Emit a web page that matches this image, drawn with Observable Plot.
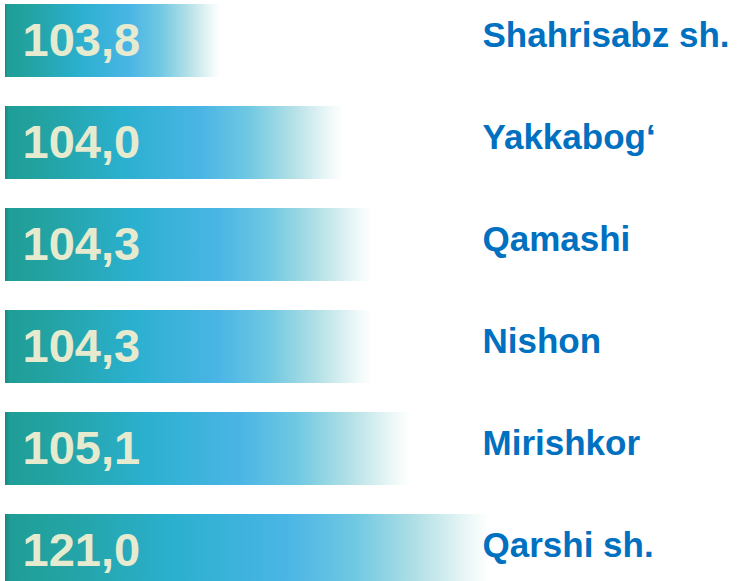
<!DOCTYPE html>
<html>
<head>
<meta charset="utf-8">
<script src="https://cdn.jsdelivr.net/npm/d3@7"></script>
<script src="https://cdn.jsdelivr.net/npm/@observablehq/plot@0.6"></script>
<style>
  html, body { margin: 0; padding: 0; background: #ffffff; }
  #chart svg { display: block; }
</style>
</head>
<body>
<div id="chart"></div>
<script>
// Data
const regions = ["Shahrisabz sh.", "Yakkabog‘", "Qamashi", "Nishon", "Mirishkor", "Qarshi sh."];
const values = [103.8, 104.0, 104.3, 104.3, 105.1, 121.0];
const baseline = 100;

const data = regions.map((r, i) => ({region: r, value: values[i]}));
const fmt = v => v.toFixed(1).replace(".", ",");

// the infographic's bar lengths are not linear in the values: piecewise scale
const xDomain = [baseline, ...Array.from(new Set(values)).sort((a, b) => a - b)];
const xRange = [5, 220, 343, 372, 410, 490];

const chart = Plot.plot({
  width: 738,
  height: 581,
  margin: 0,
  style: {background: "transparent", overflow: "visible"},
  x: {type: "linear", domain: xDomain, range: xRange, axis: null},
  y: {type: "band", domain: regions, range: [2, 590], paddingInner: 0.28, paddingOuter: 0, axis: null},
  marks: [
    Plot.barX(data, {x1: () => baseline, x2: "value", y: "region", fill: "url(#barGrad)"}),
    Plot.text(data, {
      x: () => baseline, y: "region", text: d => fmt(d.value),
      textAnchor: "start", lineAnchor: "middle", dx: 17, dy: 0,
      fill: "#e6ebcf", fontSize: 47, fontWeight: "bold",
      fontFamily: "'Liberation Sans', Arial, sans-serif"
    }),
    Plot.text(data, {
      x: () => d3.max(values), y: "region", text: "region",
      textAnchor: "start", lineAnchor: "middle", dx: -8, dy: -5,
      fill: "#0070c0", fontSize: 35, fontWeight: "bold",
      fontFamily: "'Liberation Sans', Arial, sans-serif"
    })
  ]
});

const ns = "http://www.w3.org/2000/svg";
const defs = document.createElementNS(ns, "defs");
defs.innerHTML = `
  <linearGradient id="barGrad" x1="0" y1="0" x2="1" y2="0">
    <stop offset="0" stop-color="#17887f"/>
    <stop offset="0.012" stop-color="#1f9e97"/>
    <stop offset="0.12" stop-color="#23a3a3"/>
    <stop offset="0.35" stop-color="#2bb0cf"/>
    <stop offset="0.58" stop-color="#4ab5e5"/>
    <stop offset="0.72" stop-color="#6fc8e2"/>
    <stop offset="0.85" stop-color="#b2e0e6"/>
    <stop offset="0.96" stop-color="#eef8f8"/>
    <stop offset="1" stop-color="#ffffff"/>
  </linearGradient>`;
chart.insertBefore(defs, chart.firstChild);

document.getElementById("chart").appendChild(chart);
</script>
</body>
</html>
